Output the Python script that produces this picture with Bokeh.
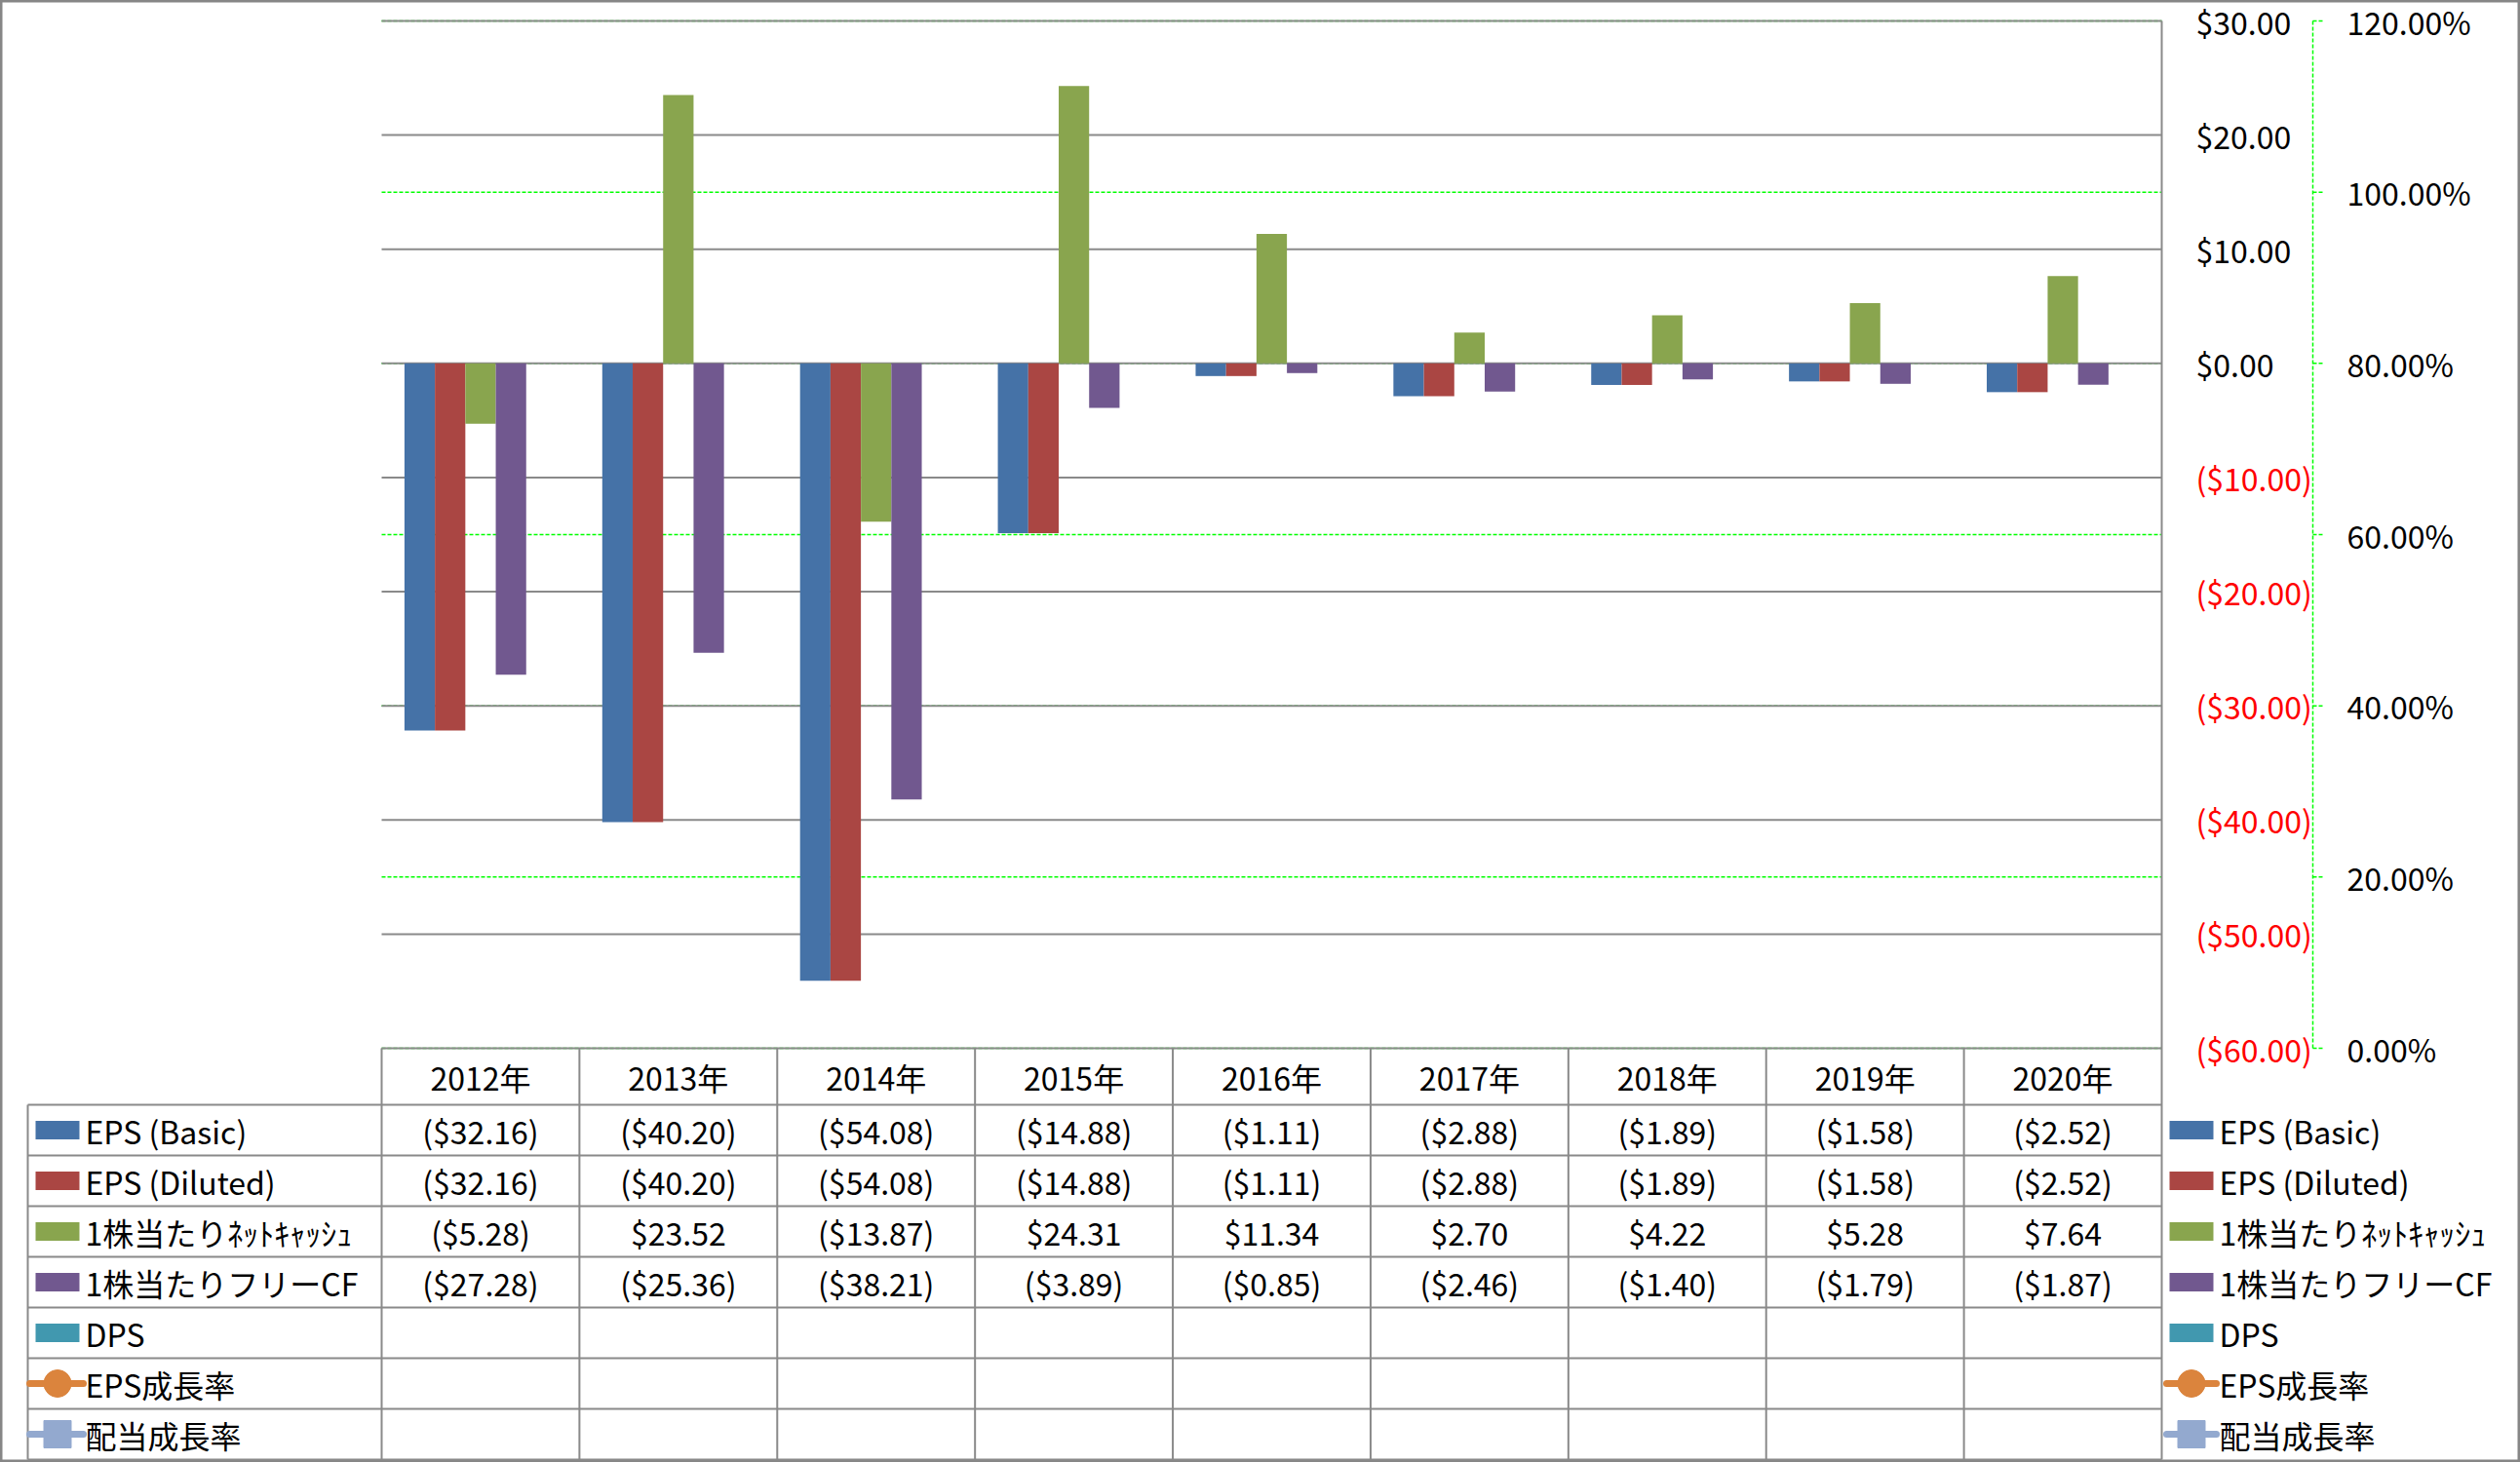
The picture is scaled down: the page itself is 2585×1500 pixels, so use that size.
from bokeh.plotting import figure
from bokeh.models import Range1d
from bokeh.core.properties import value
from bokeh.embed import file_html
from bokeh.resources import INLINE

# ---------------- data ----------------
years = ["2012年", "2013年", "2014年", "2015年", "2016年", "2017年", "2018年", "2019年", "2020年"]
eps_basic = [-32.16, -40.20, -54.08, -14.88, -1.11, -2.88, -1.89, -1.58, -2.52]
eps_diluted = [-32.16, -40.20, -54.08, -14.88, -1.11, -2.88, -1.89, -1.58, -2.52]
net_cash = [-5.28, 23.52, -13.87, 24.31, 11.34, 2.70, 4.22, 5.28, 7.64]
free_cf = [-27.28, -25.36, -38.21, -3.89, -0.85, -2.46, -1.40, -1.79, -1.87]
dps = [None] * 9
eps_growth = [None] * 9
div_growth = [None] * 9

series_names = ["EPS (Basic)", "EPS (Diluted)", "1株当たりﾈｯﾄｷｬｯｼｭ", "1株当たりフリーCF",
                "DPS", "EPS成長率", "配当成長率"]
series_values = [eps_basic, eps_diluted, net_cash, free_cf, dps, eps_growth, div_growth]
series_kind = ["bar", "bar", "bar", "bar", "bar", "circle", "square"]
series_colors = ["#4572A7", "#AA4643", "#89A54E", "#71588F", "#4198AF", "#DB843D", "#93A9CF"]

usd_ticks = [30, 20, 10, 0, -10, -20, -30, -40, -50, -60]
pct_ticks = [120, 100, 80, 60, 40, 20, 0]

# ---------------- layout (pixels) ----------------
W, H = 2585, 1500
PL, PR, PT, PB = 391, 2217, 21, 1075
ROW0, ROWH = 1133, 52
FONT = "Noto Sans CJK JP"
FS = "32px"
GRID = "#8A8A8A"

n = len(years)
CAT_W = (PR - PL) / n
USD_MAX, USD_MIN = usd_ticks[0], usd_ticks[-1]
PCT_MAX, PCT_MIN = pct_ticks[0], pct_ticks[-1]


def X(px):
    return (px - PL) / CAT_W


def USD(py):
    return USD_MAX - (py - PT) * (USD_MAX - USD_MIN) / (PB - PT)


def PCT(py):
    return PCT_MAX - (py - PT) * (PCT_MAX - PCT_MIN) / (PB - PT)


def R(py):
    return (py - ROW0) / ROWH


def fmt_usd(v):
    if v is None:
        return ""
    return "(${:,.2f})".format(-v) if v < 0 else "${:,.2f}".format(v)


p = figure(width=W, height=H, output_backend="svg", toolbar_location=None,
           x_range=Range1d(X(0), X(W)), y_range=Range1d(USD(H), USD(0)),
           x_axis_location=None, y_axis_location=None,
           min_border=0, min_border_left=0, min_border_right=0,
           min_border_top=0, min_border_bottom=0)
p.extra_y_ranges = {"pct": Range1d(PCT(H), PCT(0)), "tbl": Range1d(R(H), R(0))}
p.grid.visible = False
p.outline_line_color = "#868686"
p.outline_line_width = 4
p.background_fill_color = "white"
p.border_fill_color = "white"

# ---------------- gridlines ----------------
p.segment(x0=[0] * len(pct_ticks), x1=[n] * len(pct_ticks), y0=pct_ticks, y1=pct_ticks,
          y_range_name="pct", line_color="#00FF00", line_width=1.5, line_dash="4 2")
p.segment(x0=[0] * len(usd_ticks), x1=[n] * len(usd_ticks), y0=usd_ticks, y1=usd_ticks,
          line_color=GRID, line_width=2)

# ---------------- bars ----------------
n_bars = series_kind.count("bar")
bw = 1.0 / (n_bars + 1.5)
for k in range(n_bars):
    vals = series_values[k]
    xs = [i + 0.5 + (k - (n_bars - 1) / 2) * bw for i in range(n) if vals[i] is not None]
    ys = [v for v in vals if v is not None]
    if xs:
        p.vbar(x=xs, top=ys, bottom=0, width=bw, fill_color=series_colors[k], line_color=None)

# ---------------- primary axis labels (right) ----------------
p.text(x=[X(2252)] * len(usd_ticks), y=usd_ticks, text=[fmt_usd(t) for t in usd_ticks],
       text_color=["#FF0000" if t < 0 else "#000000" for t in usd_ticks],
       text_font=value(FONT), text_font_size=FS, text_align="left", text_baseline="middle")

# ---------------- secondary axis ----------------
p.segment(x0=[X(2372)], x1=[X(2372)], y0=[PCT_MIN], y1=[PCT_MAX], y_range_name="pct",
          line_color="#00FF00", line_width=1.5, line_dash="4 2")
p.segment(x0=[X(2372)] * len(pct_ticks), x1=[X(2384)] * len(pct_ticks), y0=pct_ticks, y1=pct_ticks,
          y_range_name="pct", line_color="#00FF00", line_width=1.5, line_dash="4 2")
p.text(x=[X(2407)] * len(pct_ticks), y=pct_ticks, text=["{:.2f}%".format(t) for t in pct_ticks],
       y_range_name="pct", text_color="#000000",
       text_font=value(FONT), text_font_size=FS, text_align="left", text_baseline="middle")

# ---------------- data table ----------------
n_rows = len(series_names)
# right edge (value axis line) from plot top to table bottom
p.segment(x0=[n], x1=[n], y0=[R(PT)], y1=[n_rows], y_range_name="tbl", line_color=GRID, line_width=2)
# column separators
p.segment(x0=list(range(n)), x1=list(range(n)), y0=[R(PB)] * n, y1=[n_rows] * n,
          y_range_name="tbl", line_color=GRID, line_width=2)
# label column left edge
p.segment(x0=[X(28)], x1=[X(28)], y0=[0], y1=[n_rows], y_range_name="tbl", line_color=GRID, line_width=2)
# row lines
p.segment(x0=[X(28)] * (n_rows + 1), x1=[n] * (n_rows + 1), y0=list(range(n_rows + 1)),
          y1=list(range(n_rows + 1)), y_range_name="tbl", line_color=GRID, line_width=2)

# header
p.text(x=[i + 0.5 for i in range(n)], y=[(R(PB) + 0) / 2] * n, text=years, y_range_name="tbl",
       text_color="#000000", text_font=value(FONT), text_font_size=FS,
       text_align="center", text_baseline="middle")

# values
cx, cy, ct = [], [], []
for r, vals in enumerate(series_values):
    for i, v in enumerate(vals):
        if v is not None:
            cx.append(i + 0.5)
            cy.append(r + 0.5)
            ct.append(fmt_usd(v))
p.text(x=cx, y=cy, text=ct, y_range_name="tbl", text_color="#000000",
       text_font=value(FONT), text_font_size=FS, text_align="center", text_baseline="middle")

# legend keys (in table and at right)
for key_c, line_a, line_b, text_x in [(58.5, 30, 85, 87), (2247.5, 2222, 2273, 2276)]:
    for r, (name, kind, col) in enumerate(zip(series_names, series_kind, series_colors)):
        y = r + 0.5
        if kind == "bar":
            p.rect(x=[X(key_c)], y=[y], width=45, height=19, width_units="screen",
                   height_units="screen", y_range_name="tbl", fill_color=col, line_color=None)
        else:
            p.segment(x0=[X(line_a)], x1=[X(line_b)], y0=[y], y1=[y], y_range_name="tbl",
                      line_color=col, line_width=7, line_cap="round")
            p.scatter(x=[X(key_c)], y=[y], marker=kind, size=28, y_range_name="tbl",
                      fill_color=col, line_color=col, line_width=1)
    p.text(x=[X(text_x)] * n_rows, y=[r + 0.5 for r in range(n_rows)], text=series_names,
           y_range_name="tbl", text_color="#000000", text_font=value(FONT), text_font_size=FS,
           text_align="left", text_baseline="middle")

with open("out.html", "w", encoding="utf-8") as f:
    f.write(file_html(p, INLINE))
